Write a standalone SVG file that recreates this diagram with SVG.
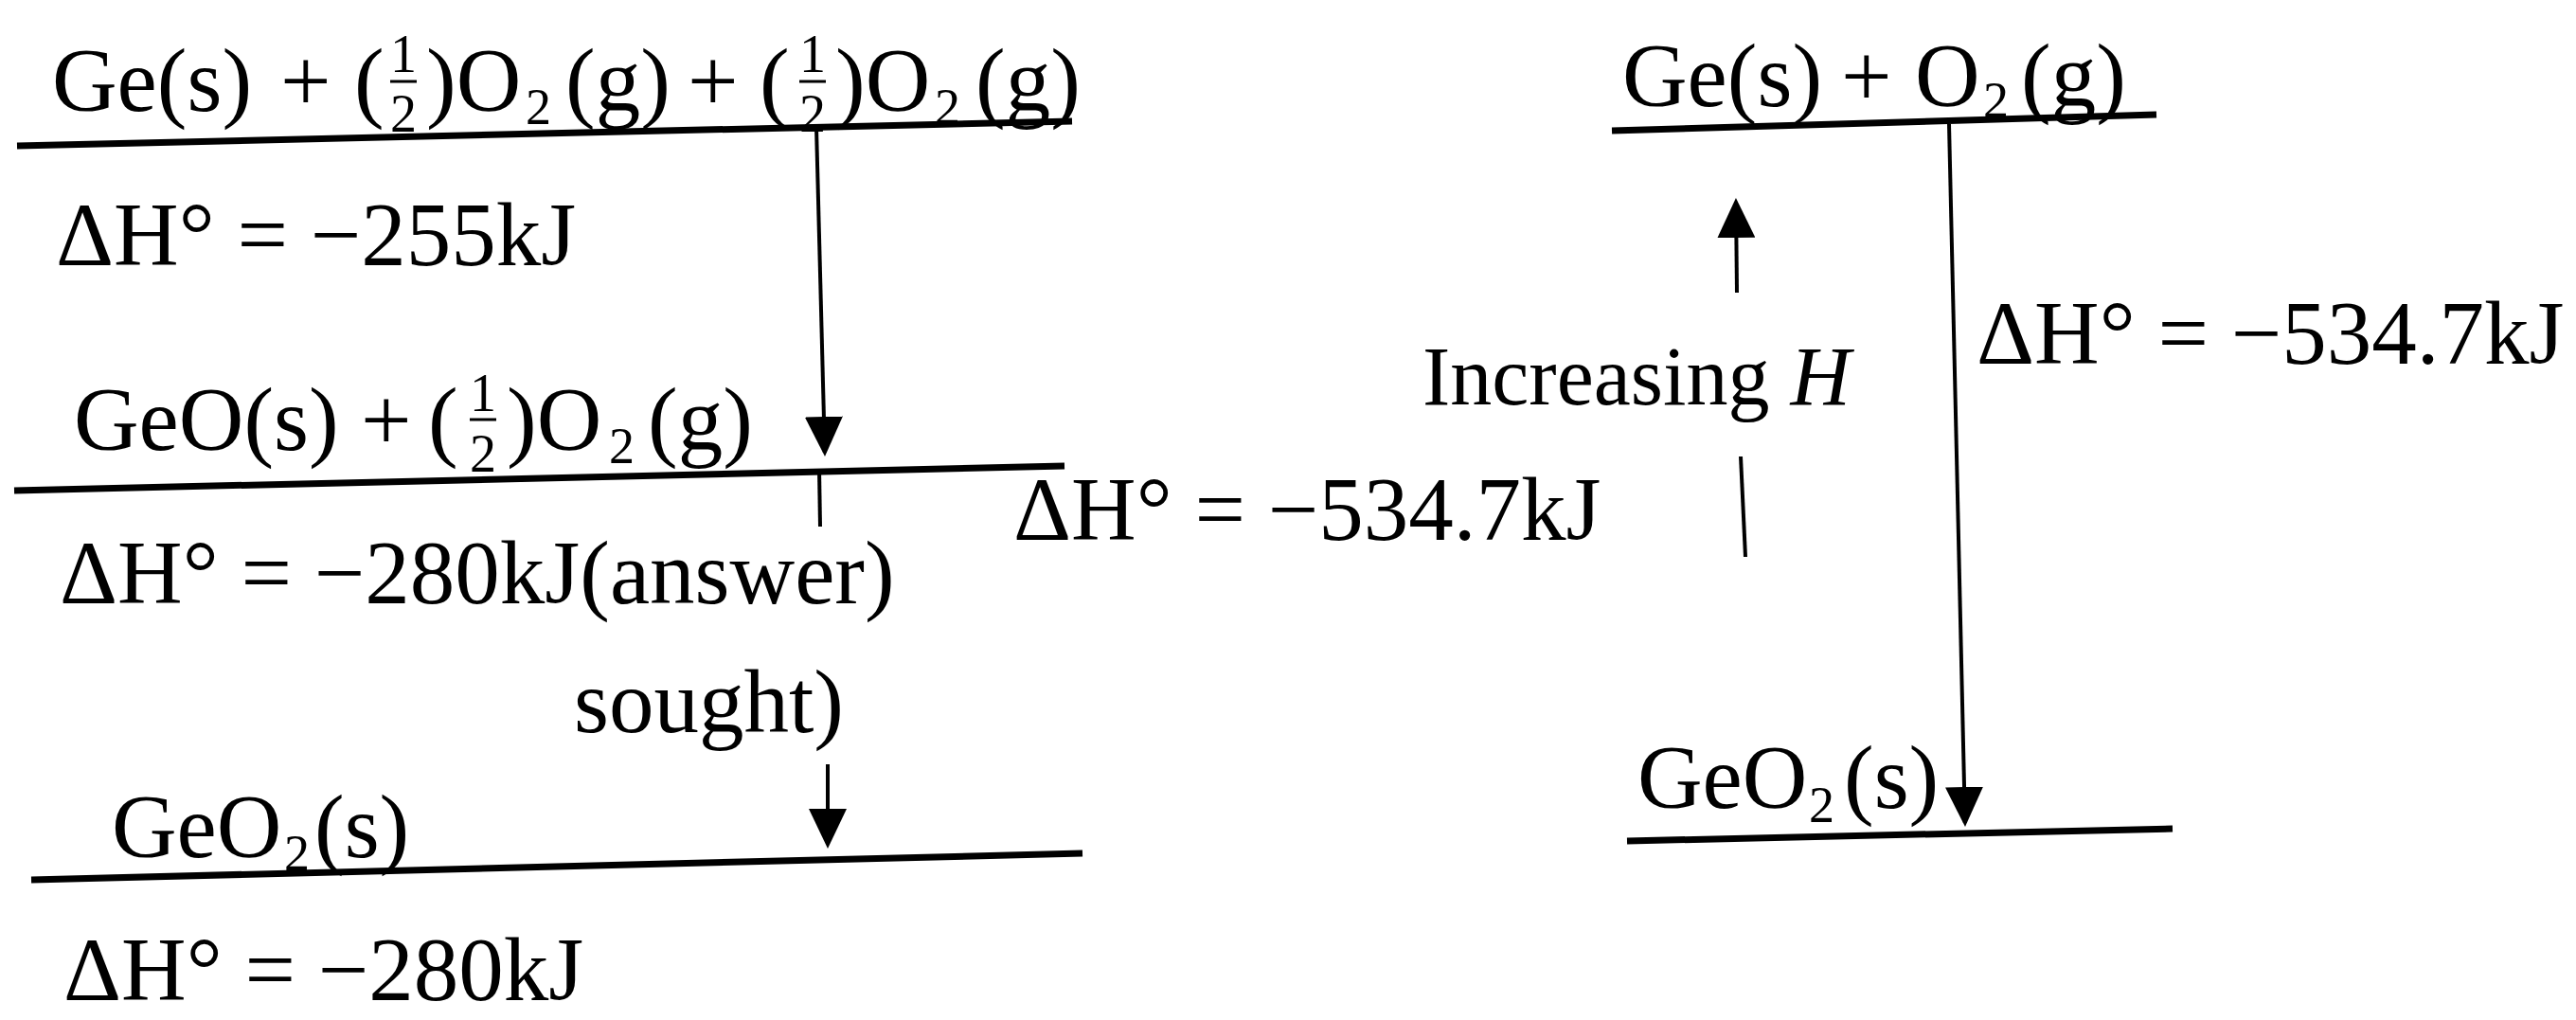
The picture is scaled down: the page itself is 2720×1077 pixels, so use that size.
<svg xmlns="http://www.w3.org/2000/svg" width="2720" height="1077" viewBox="0 0 2720 1077">
<defs>
<marker id="ah" viewBox="0 0 42 40" refX="38" refY="20" markerWidth="42" markerHeight="40" markerUnits="userSpaceOnUse" orient="auto"><path d="M0,0 L42,20 L0,40 Z" fill="#000"/></marker>
<style>
text{font-family:"Liberation Serif","Times New Roman",serif;fill:#000}
.t{font-size:95px}
.s{font-size:54px}
.f{font-size:56px;text-anchor:middle}
.i{font-size:88px}
.level{stroke:#000;stroke-width:7}
.conn{stroke:#000;stroke-width:4;fill:none}
.bar{stroke:#000;stroke-width:3}
</style>
</defs>
<rect width="2720" height="1077" fill="#fff"/>

<g id="level-ge-half-half">
<line class="level" x1="18" y1="154" x2="1132" y2="128"/>
<text class="t" y="117"><tspan x="55">Ge(s)</tspan><tspan x="296">+</tspan><tspan x="374">(</tspan></text>
<text class="f" x="426" y="76">1</text>
<text class="f" x="426" y="139">2</text>
<line class="bar" x1="412" y1="86" x2="440" y2="86"/>
<text class="t" x="450" y="117">)O</text>
<text class="s" x="555" y="131">2</text>
<text class="t" y="117"><tspan x="597">(g)</tspan><tspan x="726">+</tspan><tspan x="802">(</tspan></text>
<text class="f" x="858" y="76">1</text>
<text class="f" x="858" y="139">2</text>
<line class="bar" x1="844" y1="86" x2="872" y2="86"/>
<text class="t" x="882" y="117">)O</text>
<text class="s" x="987" y="131">2</text>
<text class="t" x="1030" y="117">(g)</text>
</g>

<g id="label-dh-255">
<text class="t" x="59" y="280">ΔH° = −255kJ</text>
</g>

<g id="level-geo-half">
<line class="level" x1="15" y1="518" x2="1124" y2="492"/>
<text class="t" y="475"><tspan x="78">GeO(s)</tspan><tspan x="381">+</tspan><tspan x="452">(</tspan></text>
<text class="f" x="510" y="434">1</text>
<text class="f" x="510" y="498">2</text>
<line class="bar" x1="496" y1="443" x2="524" y2="443"/>
<text class="t" x="535" y="475">)O</text>
<text class="s" x="643" y="489">2</text>
<text class="t" x="684" y="475">(g)</text>
</g>

<g id="label-dh-280-answer">
<text class="t" x="63" y="637">ΔH° = −280kJ(answer)</text>
<text class="t" x="606" y="773">sought)</text>
</g>

<g id="label-dh-534-mid">
<text class="t" x="1070" y="570">ΔH° = −534.7kJ</text>
</g>

<g id="level-geo2-left">
<line class="level" x1="33" y1="929" x2="1143" y2="901"/>
<text class="t" x="118" y="905">GeO</text>
<text class="s" x="300" y="919">2</text>
<text class="t" x="332" y="905">(s)</text>
</g>

<g id="label-dh-280">
<text class="t" x="67" y="1056">ΔH° = −280kJ</text>
</g>

<g id="level-ge-o2-right">
<line class="level" x1="1702" y1="138" x2="2277" y2="121"/>
<text class="t" y="112"><tspan x="1713">Ge(s)</tspan><tspan x="1944">+</tspan><tspan x="2022">O</tspan></text>
<text class="s" x="2094" y="124">2</text>
<text class="t" x="2134" y="112">(g)</text>
</g>

<g id="label-increasing-h">
<text class="i" x="1502" y="427">Increasing <tspan font-style="italic">H</tspan></text>
</g>

<g id="label-dh-534-right">
<text class="t" x="2087" y="384">ΔH° = −534.7kJ</text>
</g>

<g id="level-geo2-right">
<line class="level" x1="1718" y1="888" x2="2294" y2="875"/>
<text class="t" x="1729" y="853">GeO</text>
<text class="s" x="1910" y="868">2</text>
<text class="t" x="1947" y="853">(s)</text>
</g>

<g id="connectors">
<line class="conn" x1="862" y1="134" x2="870.9" y2="478" marker-end="url(#ah)"/>
<line class="conn" x1="865" y1="495" x2="866" y2="556"/>
<line class="conn" x1="874" y1="807" x2="874" y2="892" marker-end="url(#ah)"/>
<line class="conn" x1="1834" y1="309" x2="1833" y2="213" marker-end="url(#ah)"/>
<line class="conn" x1="1838" y1="482" x2="1843" y2="588"/>
<line class="conn" x1="2058" y1="131" x2="2074.9" y2="869" marker-end="url(#ah)"/>
</g>
</svg>
